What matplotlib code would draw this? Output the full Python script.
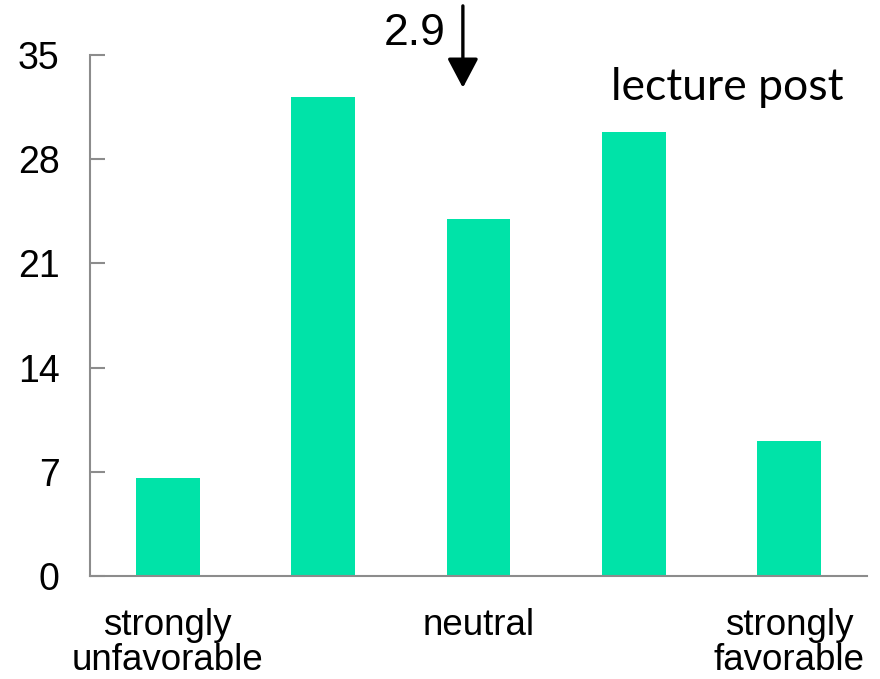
import matplotlib
matplotlib.use("Agg")
import matplotlib.pyplot as plt

CATEGORIES = ["strongly\nunfavorable", "", "neutral", "", "strongly\nfavorable"]
COUNTS = [6.6, 32.2, 24.0, 29.8, 9.1]
Y_TICKS = [0, 7, 14, 21, 28, 35]
MEAN_SCORE = 2.9          # on the 1..5 scale
PANEL_LABEL = "lecture post"

BAR_COLOR = "#00E3A8"
AXIS_COLOR = "#8C8C8C"

plt.rcParams["font.family"] = ["Liberation Sans", "DejaVu Sans"]

fig = plt.figure(figsize=(8.8, 6.79), dpi=100)
ax = fig.add_axes([0.1023, 0.1517, 0.8827, 0.7673])

x = range(len(COUNTS))
ax.bar(x, COUNTS, width=0.41, color=BAR_COLOR, linewidth=0)

ax.set_xlim(-0.5, 4.5)
ax.set_ylim(0, 35)
ax.set_yticks(Y_TICKS)
ax.set_yticklabels([str(t) for t in Y_TICKS], fontsize=27)
ax.set_xticks(list(x))
ax.set_xticklabels(CATEGORIES, fontsize=26.5, linespacing=1.0)

ax.tick_params(axis="y", direction="in", length=11, width=1.5,
               color=AXIS_COLOR, pad=22)
ax.tick_params(axis="x", length=0, pad=23)
for side in ["top", "right"]:
    ax.spines[side].set_visible(False)
for side in ["left", "bottom"]:
    ax.spines[side].set_color(AXIS_COLOR)
    ax.spines[side].set_linewidth(1.5)

# mean score marker: 1..5 scale maps onto bar index 0..4
mx = MEAN_SCORE - 1
ax.annotate("", xy=(mx, 32.8), xytext=(mx, 38.3),
            arrowprops=dict(arrowstyle="-|>,head_length=1.8,head_width=0.95",
                            color="black", lw=2.4, shrinkA=0, shrinkB=0),
            annotation_clip=False)
ax.text(mx - 0.11, 35.7, f"{MEAN_SCORE}", fontsize=32, ha="right",
        va="baseline", clip_on=False)

ax.text(3.6, 32.0, PANEL_LABEL, fontsize=32, ha="center", va="baseline",
        family=["Lato", "DejaVu Sans"])

fig.savefig("out.png", dpi=100)
